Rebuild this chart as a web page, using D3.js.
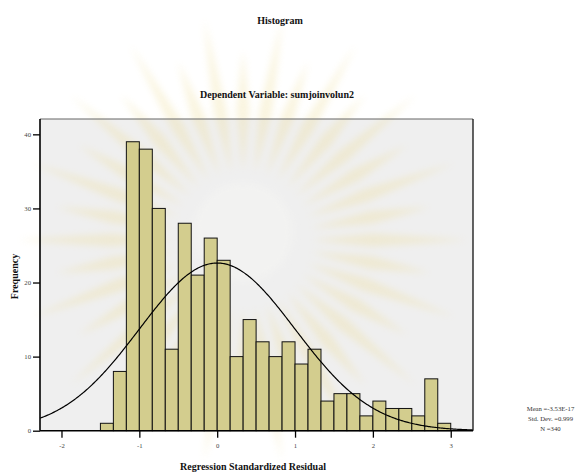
<!DOCTYPE html>
<html>
<head>
<meta charset="utf-8">
<style>
  body { margin: 0; background: #fff; }
  .axis text { font-family: "Liberation Serif", serif; font-size: 6.7px; fill: #444; }
  .axis line { stroke: #000; stroke-width: 1.3px; }
  .axis path { display: none; }
  .lbl { font-family: "Liberation Serif", serif; font-weight: bold; font-size: 10px; fill: #111; }
  .stats { font-family: "Liberation Serif", serif; font-size: 6.7px; fill: #333; }
</style>
</head>
<body>
<svg width="579" height="473"></svg>
<script src="https://cdnjs.cloudflare.com/ajax/libs/d3/7.8.5/d3.min.js"></script>
<script>

// bin start values (width 1/6) and the frequencies
var binWidth = 1 / 6;
var binStarts = d3.range(27).map(function(i) { return -1.5 + i * binWidth; });
var counts = [1, 8, 39, 38, 30, 11, 28, 21, 26, 23, 10, 15, 12, 10, 12, 9, 11, 4, 5, 5, 2, 4, 3, 3, 2, 7, 1];

var xTicks = [-2, -1, 0, 1, 2, 3];
var yTicks = [0, 10, 20, 30, 40];

var mean = -3.53e-17, sd = 0.999, n = 340;
var statLines = ["Mean =-3.53E-17", "Std. Dev. =0.999", "N =340"];

var svg = d3.select("svg"),
    margin = {top: 119, left: 40},
    width = 433,
    height = 311.7;

var bg = svg.append("g").attr("transform", "translate(" + margin.left + "," + margin.top + ")");
var mark = svg.append("g");
var g = svg.append("g").attr("transform", "translate(" + margin.left + "," + margin.top + ")");

var x = d3.scaleLinear().domain([-2.276, 3.286]).range([0, width]);
var y = d3.scaleLinear().domain([0, 42.07]).range([height, 0]);

// plot background
bg.append("rect")
    .attr("width", width)
    .attr("height", height)
    .attr("fill", "#efefef");

// faint emblem watermark behind the bars
var defs = svg.append("defs");
defs.append("filter").attr("id", "blur")
    .attr("x", "-20%").attr("y", "-20%").attr("width", "140%").attr("height", "140%")
  .append("feGaussianBlur").attr("stdDeviation", 3.5);

var cx = 243, cy = 240;
var rays = mark.append("g").attr("filter", "url(#blur)").attr("opacity", 0.3);
d3.range(36).forEach(function(i) {
  var a = i / 36 * 2 * Math.PI,
      r0 = 68, rm = 130, r1 = (i % 2 ? 190 : 225), w = 0.05;
  var pts = [[r0, a], [rm, a - w], [r1, a], [rm, a + w]].map(function(p) {
    return [cx + p[0] * Math.cos(p[1]), cy + p[0] * Math.sin(p[1])];
  });
  rays.append("polygon")
      .attr("points", pts.join(" "))
      .attr("fill", "#eedd95");
});
mark.append("circle")
    .attr("cx", cx).attr("cy", cy - 8).attr("r", 50)
    .attr("fill", "#f5f5f3").attr("filter", "url(#blur)").attr("opacity", 0.5);

// bars
g.selectAll(".bar")
    .data(counts)
  .enter().append("rect")
    .attr("class", "bar")
    .attr("x", function(d, i) { return x(binStarts[i]); })
    .attr("y", function(d) { return y(d); })
    .attr("width", function(d, i) { return x(binStarts[i] + binWidth) - x(binStarts[i]); })
    .attr("height", function(d) { return y(0) - y(d); })
    .attr("fill", "#d3cd8e")
    .attr("stroke", "#111")
    .attr("stroke-width", 1);

// normal curve from mean, sd and N
var curveX = d3.range(0, 401).map(function(i) { return x.domain()[0] + i / 400 * (x.domain()[1] - x.domain()[0]); });
var line = d3.line()
    .x(function(d) { return x(d); })
    .y(function(d) { return y(n * binWidth * Math.exp(-0.5 * Math.pow((d - mean) / sd, 2)) / (sd * Math.sqrt(2 * Math.PI))); });

g.append("path")
    .datum(curveX)
    .attr("d", line)
    .attr("fill", "none")
    .attr("stroke", "#000")
    .attr("stroke-width", 1.2);

// frame
g.append("line").attr("x1", 0).attr("x2", width).attr("y1", 0).attr("y2", 0)
    .attr("stroke", "#666").attr("stroke-width", 1.2);
g.append("line").attr("x1", width).attr("x2", width).attr("y1", 0).attr("y2", height)
    .attr("stroke", "#222").attr("stroke-width", 1.4);

// axes (hyphen minus like the original)
var fmt = function(d) { return String(d); };

g.append("g")
    .attr("class", "axis")
    .attr("transform", "translate(0," + height + ")")
    .call(d3.axisBottom(x).tickValues(xTicks).tickSize(7).tickPadding(6).tickFormat(fmt));

g.append("g")
    .attr("class", "axis")
    .call(d3.axisLeft(y).tickValues(yTicks).tickSize(7).tickPadding(2).tickFormat(fmt));

g.append("line").attr("x1", 0).attr("x2", width).attr("y1", height).attr("y2", height)
    .attr("stroke", "#000").attr("stroke-width", 1.6);
g.append("line").attr("x1", 0).attr("x2", 0).attr("y1", 0).attr("y2", height)
    .attr("stroke", "#000").attr("stroke-width", 1.6);

// titles
svg.append("text").attr("class", "lbl")
    .attr("x", 280).attr("y", 24).attr("text-anchor", "middle")
    .text("Histogram");

svg.append("text").attr("class", "lbl")
    .attr("x", 277).attr("y", 97.5).attr("text-anchor", "middle")
    .text("Dependent Variable: sumjoinvolun2");

svg.append("text").attr("class", "lbl")
    .attr("transform", "translate(17.5,276.5) rotate(-90)")
    .attr("text-anchor", "middle")
    .text("Frequency");

svg.append("text").attr("class", "lbl")
    .attr("x", 253).attr("y", 470).attr("text-anchor", "middle")
    .text("Regression Standardized Residual");

// stats box
svg.selectAll(".stats")
    .data(statLines)
  .enter().append("text")
    .attr("class", "stats")
    .attr("x", 550.5)
    .attr("y", function(d, i) { return 411 + i * 10; })
    .attr("text-anchor", "middle")
    .text(function(d) { return d; });

</script>
</body>
</html>
